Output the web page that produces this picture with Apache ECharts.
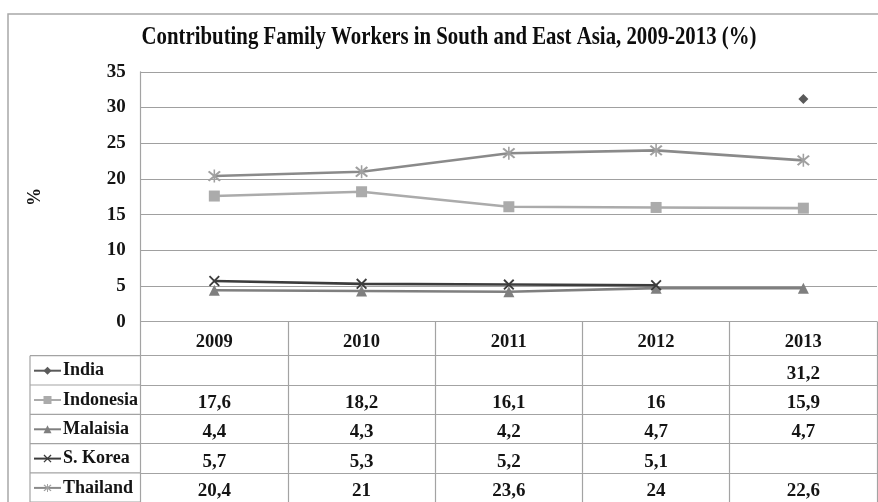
<!DOCTYPE html>
<html><head><meta charset="utf-8">
<script src="https://cdn.jsdelivr.net/npm/echarts@6/dist/echarts.min.js"></script>
<style>html,body{margin:0;padding:0;background:#fff}#c{width:878px;height:502px}</style>
</head><body><div id="c"></div>
<script>
const years = ['2009', '2010', '2011', '2012', '2013'];
const seriesNames = ['India', 'Indonesia', 'Malaisia', 'S. Korea', 'Thailand'];
const india = [null, null, null, null, 31.2];
const indonesia = [17.6, 18.2, 16.1, 16, 15.9];
const malaisia = [4.4, 4.3, 4.2, 4.7, 4.7];
const sKorea = [5.7, 5.3, 5.2, 5.1, null];
const thailand = [20.4, 21, 23.6, 24, 22.6];
const yMin = 0, yMax = 35, yStep = 5;
const titleText = 'Contributing Family Workers in South and East Asia, 2009-2013 (%)';

const allData = [india, indonesia, malaisia, sKorea, thailand];
const FONT = '"Liberation Serif", "Times New Roman", serif';
const TXT = '#141414';
const LINE = '#a3a3a3';
const W = 878, H = 502;
const gridLeft = 140.7, gridRight = 877, gridTop = 71.8, gridBottomY = 321.7;
const headerH = 34, rowH = 29.3;
const legendLeft = 30;

const fmt = v => (v === null || v === undefined) ? '' : String(v).replace('.', ',');

const X_PATH = 'path://M0,1.2L1.2,0L10,8.8L8.8,10Z M8.8,0L10,1.2L1.2,10L0,8.8Z';
const STAR_PATH = 'path://M0,1.2L1.2,0L10,8.8L8.8,10Z M8.8,0L10,1.2L1.2,10L0,8.8Z M4.4,-1L5.6,-1L5.6,11L4.4,11Z';

const styles = [
  { symbol: 'diamond', size: 10, color: '#5a5a5a', line: '#5a5a5a' },
  { symbol: 'rect', size: 11, color: '#ababab', line: '#ababab' },
  { symbol: 'triangle', size: 11, color: '#7f7f7f', line: '#7f7f7f' },
  { symbol: X_PATH, size: 11, color: '#3c3c3c', line: '#3c3c3c' },
  { symbol: STAR_PATH, size: 13, color: '#a0a0a0', line: '#8a8a8a' }
];

const labelStyle = { fontFamily: FONT, fontWeight: 'bold', fontSize: 19, color: TXT };

const xAxes = [{
  type: 'category', data: years, gridIndex: 0, position: 'bottom', boundaryGap: true,
  axisLine: { show: true, lineStyle: { color: LINE, width: 1.2 } },
  axisTick: { show: true, interval: 0, length: headerH, lineStyle: { color: LINE, width: 1.2 } },
  axisLabel: Object.assign({ interval: 0, margin: headerH / 2 + 4, verticalAlign: 'middle' }, labelStyle, { fontSize: 18.5 }),
  splitLine: { show: false }
}];
allData.forEach((arr, i) => {
  xAxes.push({
    type: 'category', data: years, gridIndex: 0, position: 'bottom', boundaryGap: true,
    offset: headerH + i * rowH,
    axisLine: { show: true, lineStyle: { color: LINE, width: 1.2 } },
    axisTick: { show: true, interval: 0, length: rowH, lineStyle: { color: LINE, width: 1.2 } },
    axisLabel: Object.assign({ interval: 0, margin: rowH / 2 + 3.5, verticalAlign: 'middle',
      formatter: (val, idx) => fmt(arr[idx]) }, labelStyle),
    splitLine: { show: false }
  });
});

const graphics = [
  { type: 'rect', silent: true, z: -10, shape: { x: 8, y: 14, width: 1000, height: 700 },
    style: { fill: 'none', stroke: '#a8a8a8', lineWidth: 1.5 } },
  { type: 'line', silent: true, shape: { x1: legendLeft, y1: gridBottomY + headerH, x2: legendLeft, y2: H + 5 },
    style: { stroke: LINE, lineWidth: 1.2 } },
  { type: 'text', silent: true, x: 449, y: 37, scaleX: 0.8,
    style: { text: titleText, font: 'bold 26px ' + FONT, fill: '#0d0d0d', align: 'center', verticalAlign: 'middle' } }
];
for (let i = 0; i <= seriesNames.length; i++) {
  const y = gridBottomY + headerH + i * rowH;
  graphics.push({ type: 'line', silent: true, shape: { x1: legendLeft, y1: y, x2: gridLeft, y2: y },
    style: { stroke: LINE, lineWidth: 1.2 } });
}

const legends = seriesNames.map((name, i) => ({
  data: [name], orient: 'vertical', left: legendLeft + 3, top: gridBottomY + headerH + i * rowH + 5,
  itemWidth: 27, itemHeight: 10, selectedMode: false, padding: 0,
  textStyle: Object.assign({ lineHeight: 20, padding: [0, 0, 0, -3] }, labelStyle, { fontSize: 18 })
}));

const chart = echarts.init(document.getElementById('c'), null, { renderer: 'canvas' });
chart.setOption({
  animation: false,
  backgroundColor: '#fff',
  grid: { left: gridLeft, top: gridTop, width: gridRight - gridLeft, height: gridBottomY - gridTop, containLabel: false },
  xAxis: xAxes,
  yAxis: {
    type: 'value', min: yMin, max: yMax, interval: yStep,
    name: '%', nameLocation: 'middle', nameGap: 100, nameRotate: -90,
    nameTextStyle: { fontFamily: FONT, fontWeight: 'bold', fontSize: 18, color: TXT },
    axisLine: { show: true, lineStyle: { color: LINE, width: 1.2 } },
    axisTick: { show: false },
    axisLabel: Object.assign({ margin: 15, padding: [4, 0, 0, 0] }, labelStyle),
    splitLine: { show: true, lineStyle: { color: '#a0a0a0', width: 1.2 } }
  },
  legend: legends,
  graphic: graphics,
  series: seriesNames.map((name, i) => ({
    name, type: 'line', data: allData[i], xAxisIndex: 0, yAxisIndex: 0,
    symbol: styles[i].symbol, symbolSize: styles[i].size, showSymbol: true,
    itemStyle: { color: styles[i].color },
    lineStyle: { color: styles[i].line, width: 2.6 },
    z: 2 + (i === 3 ? 1 : 0)
  }))
});
</script></body></html>
